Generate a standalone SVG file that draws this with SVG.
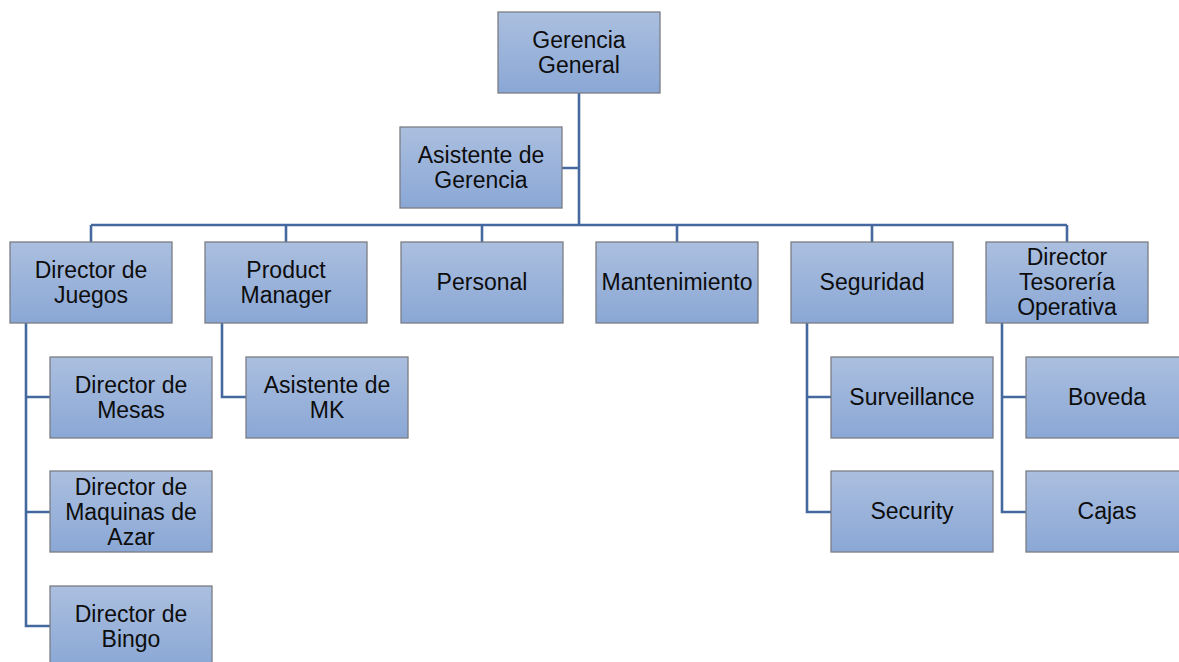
<svg xmlns="http://www.w3.org/2000/svg" width="1179" height="662" viewBox="0 0 1179 662">
<defs>
<linearGradient id="g" x1="0" y1="0" x2="0" y2="1">
<stop offset="0" stop-color="#abbfdf"/>
<stop offset="1" stop-color="#8aa7d5"/>
</linearGradient>
<style>
.b{fill:url(#g);stroke:#7a7d85;stroke-width:1.3}
.t{font-family:"Liberation Sans",Arial,sans-serif;font-size:23px;fill:#0d0d0d;text-anchor:middle}
.c{fill:none;stroke:#45699e;stroke-width:2.6}
</style>
</defs>
<rect width="1179" height="662" fill="#fff"/>
<g id="connectors">
<path class="c" d="M579 93 V226 M562 168 H579 M91 225 H1067 M91 225 V242 M286 225 V242 M482 225 V242 M677 225 V242 M872 225 V242 M1067 225 V242"/>
<path class="c" d="M26 323 V626 H50 M26 397 H50 M26 512 H50"/>
<path class="c" d="M222 323 V397 H246"/>
<path class="c" d="M807 323 V512 H831 M807 397 H831"/>
<path class="c" d="M1002 323 V512 H1026 M1002 397 H1026"/>
</g>
<g id="gerencia-general"><rect class="b" x="498" y="12" width="162" height="81"/><text class="t" x="579" y="48">Gerencia</text><text class="t" x="579" y="73">General</text></g>
<g id="asistente-gerencia"><rect class="b" x="400" y="127" width="162" height="81"/><text class="t" x="481" y="163">Asistente de</text><text class="t" x="481" y="188">Gerencia</text></g>
<g id="director-juegos"><rect class="b" x="10" y="242" width="162" height="81"/><text class="t" x="91" y="278">Director de</text><text class="t" x="91" y="303">Juegos</text></g>
<g id="product-manager"><rect class="b" x="205" y="242" width="162" height="81"/><text class="t" x="286" y="278">Product</text><text class="t" x="286" y="303">Manager</text></g>
<g id="personal"><rect class="b" x="401" y="242" width="162" height="81"/><text class="t" x="482" y="290">Personal</text></g>
<g id="mantenimiento"><rect class="b" x="596" y="242" width="162" height="81"/><text class="t" x="677" y="290">Mantenimiento</text></g>
<g id="seguridad"><rect class="b" x="791" y="242" width="162" height="81"/><text class="t" x="872" y="290">Seguridad</text></g>
<g id="director-tesoreria"><rect class="b" x="986" y="242" width="162" height="81"/><text class="t" x="1067" y="265">Director</text><text class="t" x="1067" y="290">Tesorería</text><text class="t" x="1067" y="315">Operativa</text></g>
<g id="director-mesas"><rect class="b" x="50" y="357" width="162" height="81"/><text class="t" x="131" y="393">Director de</text><text class="t" x="131" y="418">Mesas</text></g>
<g id="director-maquinas"><rect class="b" x="50" y="471" width="162" height="81"/><text class="t" x="131" y="495">Director de</text><text class="t" x="131" y="520">Maquinas de</text><text class="t" x="131" y="545">Azar</text></g>
<g id="director-bingo"><rect class="b" x="50" y="586" width="162" height="81"/><text class="t" x="131" y="622">Director de</text><text class="t" x="131" y="647">Bingo</text></g>
<g id="asistente-mk"><rect class="b" x="246" y="357" width="162" height="81"/><text class="t" x="327" y="393">Asistente de</text><text class="t" x="327" y="418">MK</text></g>
<g id="surveillance"><rect class="b" x="831" y="357" width="162" height="81"/><text class="t" x="912" y="405">Surveillance</text></g>
<g id="security"><rect class="b" x="831" y="471" width="162" height="81"/><text class="t" x="912" y="519">Security</text></g>
<g id="boveda"><rect class="b" x="1026" y="357" width="162" height="81"/><text class="t" x="1107" y="405">Boveda</text></g>
<g id="cajas"><rect class="b" x="1026" y="471" width="162" height="81"/><text class="t" x="1107" y="519">Cajas</text></g>
</svg>
